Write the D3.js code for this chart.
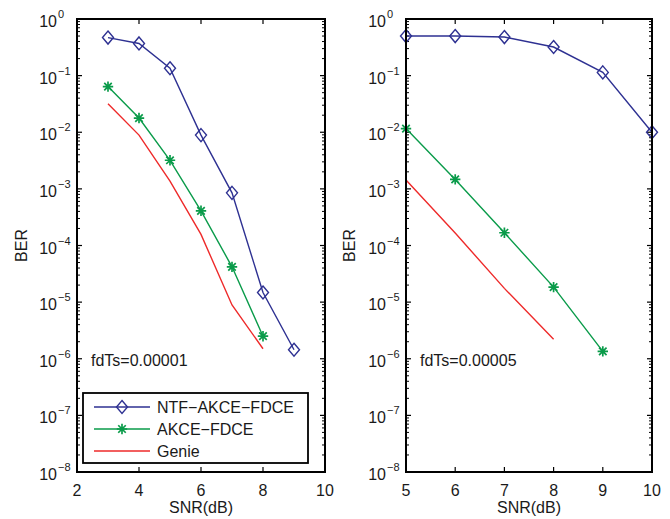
<!DOCTYPE html>
<html>
<head>
<meta charset="utf-8">
<script src="https://cdn.jsdelivr.net/npm/d3@7"></script>
<style>
  body { margin: 0; background: #fff; }
  text { font-family: "Liberation Sans", Arial, sans-serif; fill: #1a1a1a; }
</style>
</head>
<body>
<svg id="chart" width="670" height="519"></svg>
<script>
// values
const snrLeft = [3, 4, 5, 6, 7, 8, 9];
const ntfLeft = [0.47, 0.37, 0.135, 0.0089, 8.5e-4, 1.48e-5, 1.44e-6];
const akceLeft = [0.064, 0.0178, 3.2e-3, 4.1e-4, 4.2e-5, 2.5e-6];
const genieLeft = [0.032, 0.0089, 1.37e-3, 1.57e-4, 8.9e-6, 1.5e-6];

const snrRight = [5, 6, 7, 8, 9, 10];
const ntfRight = [0.5, 0.5, 0.48, 0.32, 0.114, 0.01];
const akceRight = [0.0116, 1.47e-3, 1.68e-4, 1.84e-5, 1.35e-6];
const genieRight = [1.43e-3, 1.66e-4, 1.75e-5, 2.2e-6];

const yExponents = [0, -1, -2, -3, -4, -5, -6, -7, -8];
const xTicksLeft = [2, 4, 6, 8, 10];
const xTicksRight = [5, 6, 7, 8, 9, 10];
const seriesNames = ['NTF\u2212AKCE\u2212FDCE', 'AKCE\u2212FDCE', 'Genie'];
const captions = ['fdTs=0.00001', 'fdTs=0.00005'];

const colors = {ntf: '#2e3192', akce: '#0a9b4a', genie: '#ee2a2a'};
const svg = d3.select('#chart');
const plotTop = 19, plotBottom = 472;

function asterisk(g, cx, cy, color) {
  const r = 5.2, d = r * 0.72;
  g.append('path')
    .attr('d', `M${cx - r},${cy}L${cx + r},${cy}M${cx},${cy - r}L${cx},${cy + r}` +
      `M${cx - d},${cy - d}L${cx + d},${cy + d}M${cx - d},${cy + d}L${cx + d},${cy - d}`)
    .attr('stroke', color).attr('stroke-width', 1.7).attr('fill', 'none');
}
function diamond(g, cx, cy, color) {
  g.append('path')
    .attr('d', `M${cx},${cy - 6.5}L${cx + 5.5},${cy}L${cx},${cy + 6.5}L${cx - 5.5},${cy}Z`)
    .attr('stroke', color).attr('stroke-width', 1.4).attr('fill', 'none');
}

function drawPanel(p) {
  const x = d3.scaleLinear().domain(p.xDomain).range([p.x0, p.x1]);
  const y = d3.scaleLog().domain([1e-8, 1]).range([plotBottom, plotTop]);
  const g = svg.append('g');

  // minor + major y ticks (inside, both sides)
  const minor = [];
  yExponents.slice(0, -1).forEach(e => {
    for (let k = 2; k <= 9; k++) minor.push(k * Math.pow(10, e - 1));
  });
  minor.forEach(v => {
    g.append('line').attr('x1', p.x0).attr('x2', p.x0 + 3).attr('y1', y(v)).attr('y2', y(v))
      .attr('stroke', '#000').attr('stroke-width', 1);
    g.append('line').attr('x1', p.x1).attr('x2', p.x1 - 3).attr('y1', y(v)).attr('y2', y(v))
      .attr('stroke', '#000').attr('stroke-width', 1);
  });
  yExponents.forEach(e => {
    const v = Math.pow(10, e);
    g.append('line').attr('x1', p.x0).attr('x2', p.x0 + 5).attr('y1', y(v)).attr('y2', y(v))
      .attr('stroke', '#000').attr('stroke-width', 1.2);
    g.append('line').attr('x1', p.x1).attr('x2', p.x1 - 5).attr('y1', y(v)).attr('y2', y(v))
      .attr('stroke', '#000').attr('stroke-width', 1.2);
    g.append('text').attr('x', p.x0 - 20).attr('y', y(v) + 8)
      .attr('text-anchor', 'end').attr('font-size', 16).text('10');
    g.append('text').attr('x', p.x0 - 19).attr('y', y(v) - 1)
      .attr('font-size', 11).text(e === 0 ? '0' : '\u2212' + Math.abs(e));
  });

  // x ticks
  p.xTicks.forEach(v => {
    g.append('line').attr('x1', x(v)).attr('x2', x(v)).attr('y1', plotBottom).attr('y2', plotBottom - 5)
      .attr('stroke', '#000').attr('stroke-width', 1.2);
    g.append('line').attr('x1', x(v)).attr('x2', x(v)).attr('y1', plotTop).attr('y2', plotTop + 5)
      .attr('stroke', '#000').attr('stroke-width', 1.2);
    g.append('text').attr('x', x(v)).attr('y', 496).attr('text-anchor', 'middle')
      .attr('font-size', 16).text(v);
  });

  // labels
  g.append('text').attr('x', (p.x0 + p.x1) / 2).attr('y', 513).attr('text-anchor', 'middle')
    .attr('font-size', 16).text('SNR(dB)');
  g.append('text').attr('transform', `translate(${p.yLabelX},${(plotTop + plotBottom) / 2}) rotate(-90)`)
    .attr('text-anchor', 'middle').attr('font-size', 16).text('BER');
  g.append('text').attr('x', p.x0 + 14).attr('y', 366).attr('font-size', 16).text(p.caption);

  // series
  const line = d3.line().x(d => x(d[0])).y(d => y(d[1]));
  const sg = g.append('g');
  const mk = (ys, xs) => ys.map((v, i) => [xs[i], v]);
  const genie = mk(p.genie, p.xs);
  const akce = mk(p.akce, p.xs);
  const ntf = mk(p.ntf, p.xs);
  sg.append('path').datum(genie).attr('d', line).attr('fill', 'none')
    .attr('stroke', colors.genie).attr('stroke-width', 1.4);
  sg.append('path').datum(akce).attr('d', line).attr('fill', 'none')
    .attr('stroke', colors.akce).attr('stroke-width', 1.4);
  akce.forEach(d => asterisk(sg, x(d[0]), y(d[1]), colors.akce));
  sg.append('path').datum(ntf).attr('d', line).attr('fill', 'none')
    .attr('stroke', colors.ntf).attr('stroke-width', 1.4);
  ntf.forEach(d => diamond(sg, x(d[0]), y(d[1]), colors.ntf));

  // frame
  g.append('rect').attr('x', p.x0).attr('y', plotTop).attr('width', p.x1 - p.x0)
    .attr('height', plotBottom - plotTop).attr('fill', 'none').attr('stroke', '#000').attr('stroke-width', 2);
  return g;
}

const left = drawPanel({x0: 77, x1: 325, xDomain: [2, 10], xTicks: xTicksLeft, xs: snrLeft,
  ntf: ntfLeft, akce: akceLeft, genie: genieLeft, caption: captions[0], yLabelX: 27});
drawPanel({x0: 406, x1: 652, xDomain: [5, 10], xTicks: xTicksRight, xs: snrRight,
  ntf: ntfRight, akce: akceRight, genie: genieRight, caption: captions[1], yLabelX: 355});

// legend (left panel)
const lg = left.append('g');
lg.append('rect').attr('x', 83).attr('y', 393).attr('width', 225).attr('height', 70)
  .attr('fill', '#fff').attr('stroke', '#000').attr('stroke-width', 1.8);
const legendColors = [colors.ntf, colors.akce, colors.genie];
seriesNames.forEach((name, i) => {
  const ly = 407 + i * 22;
  lg.append('line').attr('x1', 94).attr('x2', 150).attr('y1', ly).attr('y2', ly)
    .attr('stroke', legendColors[i]).attr('stroke-width', 1.4);
  if (i === 0) diamond(lg, 122, ly, colors.ntf);
  if (i === 1) asterisk(lg, 122, ly, colors.akce);
  lg.append('text').attr('x', 157).attr('y', ly + 6).attr('font-size', 16).text(name);
});
</script>
</body>
</html>
